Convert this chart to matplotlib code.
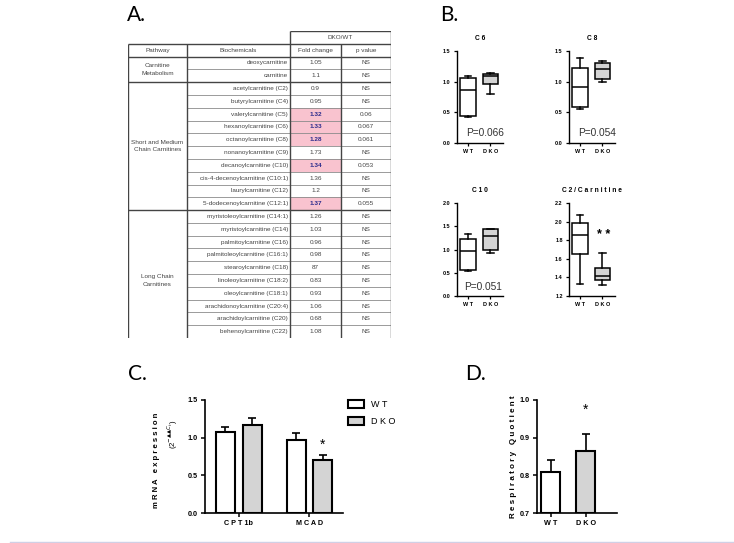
import numpy as np
import matplotlib.pyplot as plt
from matplotlib.patches import Rectangle
from matplotlib.lines import Line2D

plt.rcParams['font.family'] = ['Liberation Sans', 'DejaVu Sans']

# ---- A. table data ----
pathways = ['Carnitine\nMetabolism', 'Short and Medium\nChain Carnitines', 'Long Chain\nCarnitines']
group_sizes = [2, 10, 11]
biochemicals = ['deoxycarnitine', 'carnitine',
                'acetylcarnitine (C2)', 'butyrylcarnitine (C4)', 'valerylcarnitine (C5)',
                'hexanoylcarnitine (C6)', 'octanoylcarnitine (C8)', 'nonanoylcarnitine (C9)',
                'decanoylcarnitine (C10)', 'cis-4-decenoylcarnitine (C10:1)', 'laurylcarnitine (C12)',
                '5-dodecenoylcarnitine (C12:1)',
                'myristoleoylcarnitine (C14:1)', 'myristoylcarnitine (C14)', 'palmitoylcarnitine (C16)',
                'palmitoleoylcarnitine (C16:1)', 'stearoylcarnitine (C18)', 'linoleoylcarnitine (C18:2)',
                'oleoylcarnitine (C18:1)', 'arachidonoylcarnitine (C20:4)', 'arachidoylcarnitine (C20)',
                'behenoylcarnitine (C22)']
fold_change = ['1.05', '1.1', '0.9', '0.95', '1.32', '1.33', '1.28', '1.73', '1.34', '1.36', '1.2',
               '1.37', '1.26', '1.03', '0.96', '0.98', '87', '0.83', '0.93', '1.06', '0.68', '1.08']
p_values = ['NS', 'NS', 'NS', 'NS', '0.06', '0.067', '0.061', 'NS', '0.053', 'NS', 'NS',
            '0.055', 'NS', 'NS', 'NS', 'NS', 'NS', 'NS', 'NS', 'NS', 'NS', 'NS']

# ---- B. box plots: whisker low, Q1, median, Q3, whisker high ----
box_groups = ['W T', 'D K O']
c6_wt = [0.43, 0.44, 0.86, 1.06, 1.09]
c6_dko = [0.80, 0.97, 1.09, 1.13, 1.14]
c8_wt = [0.56, 0.58, 0.92, 1.22, 1.38]
c8_dko = [0.99, 1.05, 1.20, 1.31, 1.34]
c10_wt = [0.53, 0.55, 0.97, 1.22, 1.33]
c10_dko = [0.93, 0.99, 1.29, 1.44, 1.44]
c2_wt = [1.33, 1.65, 1.86, 1.99, 2.07]
c2_dko = [1.32, 1.37, 1.41, 1.50, 1.66]

# ---- C. mRNA expression ----
genes = ['C P T 1b', 'M C A D']
mrna_wt = [1.07, 0.965]
mrna_wt_err = [0.07, 0.095]
mrna_dko = [1.17, 0.70]
mrna_dko_err = [0.09, 0.07]

# ---- D. respiratory quotient ----
rq_groups = ['W T', 'D K O']
rq_mean = [0.81, 0.865]
rq_err = [0.031, 0.044]

W, H = 734, 543
fig = plt.figure(figsize=(W / 100, H / 100), dpi=100)


def px_axes(x0, y0, x1, y1):
    return fig.add_axes([x0 / W, 1 - y1 / H, (x1 - x0) / W, (y1 - y0) / H])


# panel letters
for lbl, x, y in [('A.', 127, 15), ('B.', 440, 15), ('C.', 128, 374), ('D.', 465, 374)]:
    fig.text(x / W, 1 - y / H, lbl, fontsize=15, family='Lato', va='center', ha='left')

# ================= A. table =================
ax = px_axes(128, 31, 391, 338)
edges = [0, 59, 162, 213, 263]
n = len(biochemicals)
ax.set_xlim(edges[0], edges[-1])
ax.set_ylim(n + 2, 0)
ax.axis('off')
dark = dict(color='#444444', lw=1.0)
light = dict(color='#8a8a8a', lw=0.6)
txt = dict(fontsize=4.6, color='#444444', va='center')

for i in range(n):
    if p_values[i] != 'NS':
        ax.add_patch(Rectangle((edges[2], 2 + i), edges[3] - edges[2], 1,
                               fc='#f9c3cf', ec='none', zorder=0))

# horizontal lines
ax.hlines(0, edges[2], edges[4], **dark)
ax.hlines([1, 2], edges[0], edges[4], **dark)
for i in range(1, n):
    ax.hlines(2 + i, edges[1], edges[4], **light)
bounds = np.cumsum(group_sizes)
ax.hlines(2 + bounds, edges[0], edges[4], **dark)
# vertical lines
ax.vlines([edges[0], edges[1], edges[3]], 1, n + 2, **dark)
ax.vlines([edges[2], edges[4]], 0, n + 2, **dark)

ax.text((edges[2] + edges[4]) / 2, 0.5, 'DKO/WT', ha='center', **txt)
for j, h in enumerate(['Pathway', 'Biochemicals', 'Fold change', 'p value']):
    ax.text((edges[j] + edges[j + 1]) / 2, 1.5, h, ha='center', **txt)

start = 0
for name, size in zip(pathways, group_sizes):
    ax.text((edges[0] + edges[1]) / 2, 2 + start + size / 2, name, ha='center',
            linespacing=1.6, **txt)
    start += size

for i in range(n):
    y = 2 + i + 0.5
    ax.text(edges[2] - 2, y, biochemicals[i], ha='right', **txt)
    hl = p_values[i] != 'NS'
    ax.text((edges[2] + edges[3]) / 2, y, fold_change[i], ha='center',
            fontweight='bold' if hl else 'normal',
            **{**txt, 'color': '#2b2b8c' if hl else '#444444'})
    ax.text((edges[3] + edges[4]) / 2, y, p_values[i], ha='center', **txt)


# ================= B. box plots =================
def box_panel(ax, wt, dko, ylim, yticks, title):
    stats = [dict(whislo=s[0], q1=s[1], med=s[2], q3=s[3], whishi=s[4]) for s in (wt, dko)]
    bp = ax.bxp(stats, positions=[1, 2], widths=0.68, showfliers=False, patch_artist=True,
                capwidths=0.3,
                boxprops=dict(lw=1.1, edgecolor='black'),
                whiskerprops=dict(lw=1.1, color='black'),
                capprops=dict(lw=1.1, color='black'),
                medianprops=dict(lw=1.1, color='black'))
    bp['boxes'][0].set_facecolor('white')
    bp['boxes'][1].set_facecolor('#d4d4d4')
    ax.set_xlim(0.51, 2.56)
    ax.set_ylim(*ylim)
    ax.set_yticks(yticks, labels=['%.1f' % v for v in yticks], fontsize=4.0, fontweight='bold')
    ax.set_xticks([1, 2], labels=box_groups, fontsize=4.0, fontweight='bold')
    for s in ['top', 'right']:
        ax.spines[s].set_visible(False)
    for s in ['left', 'bottom']:
        ax.spines[s].set_linewidth(1.0)
    ax.tick_params(length=2.5, width=0.9, pad=2)
    ax.set_title(title, fontsize=4.8, fontweight='bold', pad=8)


ax_c6 = px_axes(457, 51, 503, 143)
box_panel(ax_c6, c6_wt, c6_dko, (0, 1.5), [0, 0.5, 1.0, 1.5], 'C 6')
ax_c6.text(1.74, 0.17, 'P=0.066', fontsize=7.3, color='#333333', ha='center', va='center')

ax_c8 = px_axes(569, 51, 615, 143)
box_panel(ax_c8, c8_wt, c8_dko, (0, 1.5), [0, 0.5, 1.0, 1.5], 'C 8')
ax_c8.text(1.78, 0.17, 'P=0.054', fontsize=7.3, color='#333333', ha='center', va='center')

ax_c10 = px_axes(457, 203, 503, 296)
box_panel(ax_c10, c10_wt, c10_dko, (0, 2.0), [0, 0.5, 1.0, 1.5, 2.0], 'C 1 0')
ax_c10.text(1.67, 0.195, 'P=0.051', fontsize=7.3, color='#333333', ha='center', va='center')

ax_c2 = px_axes(569, 203, 615, 296)
box_panel(ax_c2, c2_wt, c2_dko, (1.2, 2.2), [1.2, 1.4, 1.6, 1.8, 2.0, 2.2], 'C 2 / C a r n i t i n e')
ax_c2.text(2.04, 1.86, '* *', fontsize=9, fontweight='bold', ha='center', va='center')


# ================= C. mRNA bars =================
def style_bar_axes(ax):
    for s in ['top', 'right']:
        ax.spines[s].set_visible(False)
    for s in ['left', 'bottom']:
        ax.spines[s].set_linewidth(1.2)
    ax.tick_params(length=3, width=1.1, pad=2)


axc = px_axes(205, 400, 343, 513)
x = np.arange(len(genes))
off, bw = 0.19, 0.27
axc.bar(x - off, mrna_wt, bw, color='white', edgecolor='black', lw=1.5, label='W T', zorder=2)
axc.bar(x + off, mrna_dko, bw, color='#d4d4d4', edgecolor='black', lw=1.5, label='D K O', zorder=2)
axc.errorbar(x - off, mrna_wt, yerr=[np.zeros(len(x)), mrna_wt_err], fmt='none', ecolor='black',
             elinewidth=1.2, capsize=3, capthick=1.2, zorder=1)
axc.errorbar(x + off, mrna_dko, yerr=[np.zeros(len(x)), mrna_dko_err], fmt='none', ecolor='black',
             elinewidth=1.2, capsize=3, capthick=1.2, zorder=1)
axc.set_xlim(-0.48, 1.475)
axc.set_ylim(0, 1.5)
axc.set_yticks([0, 0.5, 1.0, 1.5], labels=['0.0', '0.5', '1.0', '1.5'], fontsize=5.2, fontweight='bold')
axc.set_xticks(x, labels=genes, fontsize=5.2, fontweight='bold')
style_bar_axes(axc)
axc.text(1 + off, mrna_dko[1] + mrna_dko_err[1] + 0.13, '*', fontsize=10, ha='center', va='center')
axc.text(-0.35, 0.47, 'm R N A   e x p r e s s i o n', rotation=90, fontsize=5.6, fontweight='bold',
         transform=axc.transAxes, ha='center', va='center')
axc.text(-0.232, 0.70, '(2$^{-▲▲C_t}$)', rotation=90, fontsize=5.6,
         transform=axc.transAxes, ha='center', va='center')
axc.legend(loc='upper left', bbox_to_anchor=(1.01, 1.03), frameon=False, fontsize=6.5,
           handlelength=1.8, handleheight=1.0, labelspacing=0.8, handletextpad=0.8, borderaxespad=0)

# ================= D. respiratory quotient =================
axd = px_axes(537, 400, 617, 513)
xd = np.arange(len(rq_groups))
axd.bar(xd, [m - 0.7 for m in rq_mean], 0.55, bottom=0.7, color=['white', '#d4d4d4'],
        edgecolor='black', lw=1.5, zorder=2)
axd.errorbar(xd, rq_mean, yerr=[np.zeros(len(xd)), rq_err], fmt='none', ecolor='black',
             elinewidth=1.2, capsize=3, capthick=1.2, zorder=1)
axd.set_xlim(-0.386, 1.886)
axd.set_ylim(0.7, 1.0)
axd.set_yticks([0.7, 0.8, 0.9, 1.0], labels=['0.7', '0.8', '0.9', '1.0'], fontsize=5.2, fontweight='bold')
axd.set_xticks(xd, labels=rq_groups, fontsize=5.2, fontweight='bold')
style_bar_axes(axd)
axd.text(1, 0.973, '*', fontsize=10, ha='center', va='center')
axd.set_ylabel('R e s p i r a t o r y   Q u o t i e n t', fontsize=5.8, fontweight='bold', labelpad=2)

fig.add_artist(Line2D([10 / W, 1], [1.2 / H, 1.2 / H], color='#d0d0e6', lw=1))

fig.savefig('out.png', dpi=100)
